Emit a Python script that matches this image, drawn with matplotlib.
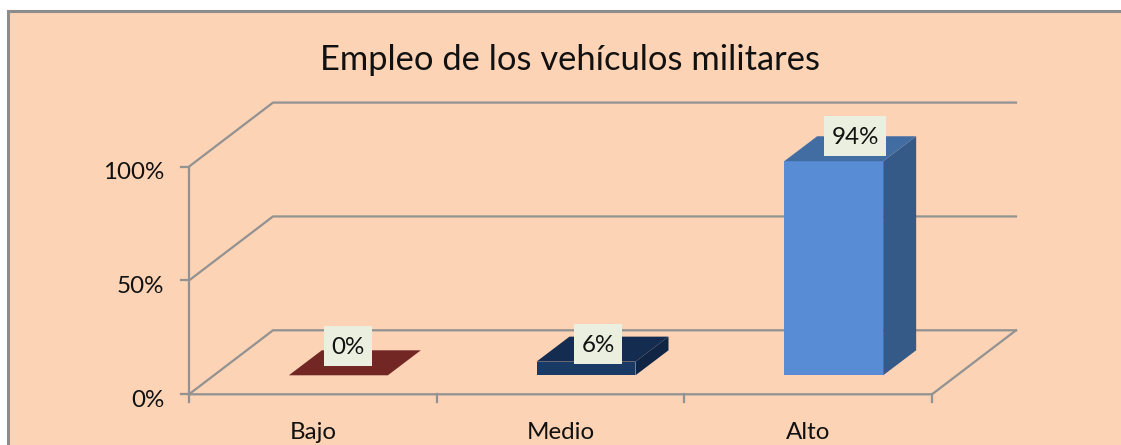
import matplotlib
matplotlib.use('Agg')
import matplotlib.pyplot as plt
from matplotlib.patches import Polygon, Rectangle

categories = ['Bajo', 'Medio', 'Alto']
values = [0, 6, 94]
y_ticks = [0, 50, 100]
front_colors = ['#a33b38', '#1a3a66', '#588dd5']
top_colors = ['#722725', '#142c4f', '#426da3']
side_colors = ['#5a1f1d', '#102543', '#355a88']

W, H = 1121, 445
PX_X, PX_Y = 247.67, 2.277  # px per category, px per percent
DX, DY = 84 / PX_X, 64 / PX_Y  # floor depth
BAR_W = 99 / PX_X
BAR_DX, BAR_DY = 33 / PX_X, 25 / PX_Y
BAR_SHIFT, BAR_LIFT = 25.5 / PX_X, 19 / PX_Y
GRID = '#929292'
TEXT = '#111111'
# data label offset from top front centre of each bar, px
label_dx = [9.5, 12.5, 21.5]
label_dy = [29, 17.5, 25.5]

plt.rcParams['font.family'] = ['Lato', 'DejaVu Sans']

fig = plt.figure(figsize=(W / 100, H / 100), dpi=100, facecolor='white')
fig.add_artist(Rectangle((8 / W, -0.02), 1.02, 1.02 - 11 / H, transform=fig.transFigure,
                         facecolor='#fcd3b5', edgecolor='#8c8c8c', linewidth=2.2, zorder=-1))

ax = fig.add_axes([189 / W, 1 - 394.3 / H, 743 / W, 227.7 / H])
ax.set_xlim(0, len(categories))
ax.set_ylim(0, 100)
ax.axis('off')

# walls and floor
for v in y_ticks:
    ax.plot([0, DX, 3 + DX], [v, v + DY, v + DY], color=GRID, lw=1.6, clip_on=False, zorder=1)
    ax.plot([-8 / PX_X, 0], [v, v], color=GRID, lw=1.6, clip_on=False, zorder=1)
    ax.text(-0.1, v - 2.7, f'{v}%', ha='right', va='center', fontsize=17.4, color=TEXT, clip_on=False)
ax.plot([0, 0], [0, 100], color=GRID, lw=1.6, clip_on=False, zorder=1)
ax.plot([0, 3, 3 + DX], [0, 0, DY], color=GRID, lw=1.6, clip_on=False, zorder=1)
for i in range(len(categories) + 1):
    ax.plot([i, i], [0, -3.5], color=GRID, lw=1.6, clip_on=False, zorder=1)

# bars
for i, (cat, v) in enumerate(zip(categories, values)):
    x0 = i + 0.5 + BAR_SHIFT - BAR_W / 2
    x1 = x0 + BAR_W
    y0, y1 = BAR_LIFT, BAR_LIFT + v
    ax.add_patch(Rectangle((x0, y0), BAR_W, v, facecolor=front_colors[i], edgecolor='none', zorder=3, clip_on=False))
    ax.add_patch(Polygon([(x1, y0), (x1 + BAR_DX, y0 + BAR_DY), (x1 + BAR_DX, y1 + BAR_DY), (x1, y1)],
                         facecolor=side_colors[i], edgecolor='none', zorder=3, clip_on=False))
    ax.add_patch(Polygon([(x0, y1), (x1, y1), (x1 + BAR_DX, y1 + BAR_DY), (x0 + BAR_DX, y1 + BAR_DY)],
                         facecolor=top_colors[i], edgecolor='none', zorder=3, clip_on=False))
    ax.text(i + 0.5, -16.7, cat, ha='center', va='center', fontsize=17.4, color=TEXT, clip_on=False)

    # data label on its pale box
    txt = f'{v}%'
    box_w = (48 + 14 * (len(txt) - 2)) / PX_X
    box_h = 40 / PX_Y
    lx = (x0 + x1) / 2 + label_dx[i] / PX_X
    ly = y1 + label_dy[i] / PX_Y
    ax.add_patch(Rectangle((lx - box_w / 2, ly - box_h / 2), box_w, box_h, facecolor='#ebefdf',
                           edgecolor='none', zorder=4, clip_on=False))
    ax.text(lx, ly - 1.5 / PX_Y, txt, ha='center', va='center', fontsize=17.4, color=TEXT, zorder=5, clip_on=False)

fig.text(570 / W, 1 - 60 / H, 'Empleo de los vehículos militares', ha='center', va='center',
         fontsize=24.8, color=TEXT)

fig.savefig('out.png', dpi=100)
